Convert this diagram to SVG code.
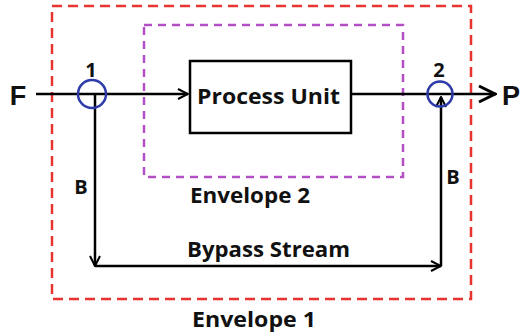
<svg xmlns="http://www.w3.org/2000/svg" width="524" height="333" viewBox="0 0 524 333">
  <style>
    .lbl { font-family: "Open Sans", "Liberation Sans", sans-serif; font-weight: 700; fill: #111; }
    .big { font-family: "Liberation Sans", sans-serif; font-weight: 700; fill: #111; font-size: 27px; }
    .flow { stroke: #000; stroke-width: 2.5; fill: none; }
    .node { stroke: #2b3aa8; stroke-width: 2.5; fill: none; }
  </style>
  <defs>
    <marker id="open" viewBox="0 0 12 12" refX="11" refY="6" markerWidth="12" markerHeight="12" markerUnits="userSpaceOnUse" orient="auto">
      <path d="M1,1 L11,6 L1,11" fill="none" stroke="#000" stroke-width="2"/>
    </marker>
    <marker id="openBig" viewBox="0 0 20 20" refX="19" refY="10" markerWidth="20" markerHeight="20" markerUnits="userSpaceOnUse" orient="auto">
      <path d="M2,2 L18,10 L2,18" fill="none" stroke="#000" stroke-width="3"/>
    </marker>
  </defs>

  <!-- control envelopes -->
  <g id="envelope1">
    <rect x="52" y="6" width="419" height="293" fill="none" stroke="#e8332e" stroke-width="2.5" stroke-dasharray="10,6"/>
    <text class="lbl" x="192" y="327" font-size="20.5" textLength="124" lengthAdjust="spacingAndGlyphs">Envelope 1</text>
  </g>
  <g id="envelope2">
    <rect x="144" y="25" width="259" height="152" fill="none" stroke="#b34fc4" stroke-width="2.5" stroke-dasharray="8,6"/>
    <text class="lbl" x="190" y="203" font-size="20.5" textLength="120" lengthAdjust="spacingAndGlyphs">Envelope 2</text>
  </g>

  <!-- streams -->
  <g id="connectors">
    <line class="flow" x1="36" y1="94" x2="188" y2="94" marker-end="url(#open)"/>
    <line class="flow" x1="351" y1="94" x2="496" y2="94" marker-end="url(#openBig)"/>
    <line class="flow" x1="95" y1="94" x2="95" y2="266" marker-end="url(#open)"/>
    <line class="flow" x1="95" y1="266" x2="441" y2="266" marker-end="url(#open)"/>
    <line class="flow" x1="441" y1="266" x2="441" y2="97" marker-end="url(#open)"/>
    <text class="lbl" x="187" y="257" font-size="20.5" textLength="163" lengthAdjust="spacingAndGlyphs">Bypass Stream</text>
    <text class="lbl" x="81" y="194" font-size="20" text-anchor="middle">B</text>
    <text class="lbl" x="453" y="184" font-size="20" text-anchor="middle">B</text>
  </g>

  <g id="feed">
    <text class="big" x="18" y="105" text-anchor="middle">F</text>
  </g>
  <g id="product">
    <text class="big" x="511" y="105" text-anchor="middle">P</text>
  </g>

  <g id="split1">
    <circle class="node" cx="92" cy="94" r="14"/>
    <text class="lbl" x="91" y="77" font-size="20" text-anchor="middle">1</text>
  </g>
  <g id="mix2">
    <circle class="node" cx="440" cy="94" r="12.5"/>
    <text class="lbl" x="439" y="77" font-size="20" text-anchor="middle">2</text>
  </g>

  <g id="process-unit">
    <rect x="190" y="61" width="161" height="72" fill="#fff" stroke="#000" stroke-width="2.5"/>
    <text class="lbl" x="197" y="104" font-size="21.5" textLength="143" lengthAdjust="spacingAndGlyphs">Process Unit</text>
  </g>
</svg>
